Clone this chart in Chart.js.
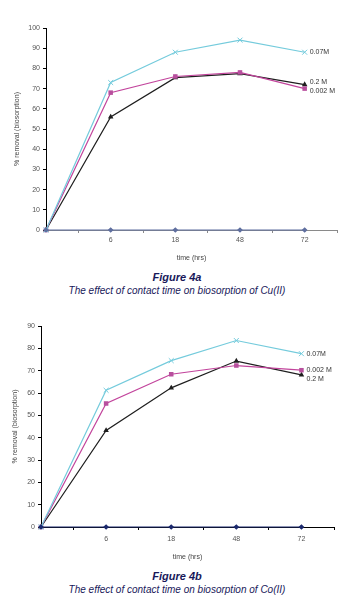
<!DOCTYPE html>
<html>
<head>
<meta charset="utf-8">
<script src="https://cdn.jsdelivr.net/npm/chart.js@4.4.1/dist/chart.umd.min.js"></script>
<style>
  body { margin: 0; background: #fff; width: 354px; height: 603px; position: relative; overflow: hidden; font-family: "Liberation Sans", Arial, sans-serif; }
  canvas { position: absolute; left: 0; }
  .cap { position: absolute; left: 0; width: 354px; text-align: center; color: #18185a; font-style: italic; line-height: 1; white-space: nowrap; }
  .fig { font-weight: bold; font-size: 11px; }
  .sub { font-size: 10px; }
</style>
</head>
<body>
<canvas id="cuChart" width="354" height="268" style="top:0"></canvas>
<div class="cap fig" style="top:272px">Figure 4a</div>
<div class="cap sub" style="top:286px">The effect of contact time on biosorption of Cu(II)</div>
<canvas id="coChart" width="354" height="267" style="top:300px"></canvas>
<div class="cap fig" style="top:571px">Figure 4b</div>
<div class="cap sub" style="top:585px">The effect of contact time on biosorption of Co(II)</div>
<script>
// categories on the time axis (first one has no label)
const timeLabels = ['', '6', '18', '48', '72'];

// Cu(II) - figure 4a
const cuBase = [0, 0, 0, 0, 0];
const cu007 = [0, 73, 88, 94, 88];
const cu0002 = [0, 68, 76, 78, 70];
const cu02 = [0, 56, 75.4, 77.4, 72];

// Co(II) - figure 4b
const coBase = [0, 0, 0, 0, 0];
const co007 = [0, 61.2, 74.5, 83.5, 77.6];
const co0002 = [0, 55.3, 68.4, 72.3, 70.2];
const co02 = [0, 43.2, 62.3, 74.3, 68.1];

const FONT = '"Liberation Sans", Arial, sans-serif';

function toPoints(values) {
    return values.map(function(v, i) { return { x: i, y: v }; });
}

// series name written next to the last point, like the excel data labels
const endLabels = {
    id: 'endLabels',
    afterDatasetsDraw(chart, args, opts) {
        const ctx = chart.ctx;
        ctx.save();
        ctx.font = '7px ' + FONT;
        ctx.fillStyle = '#333';
        ctx.textBaseline = 'middle';
        chart.data.datasets.forEach(function(ds, i) {
            if (!ds.endLabel) return;
            const meta = chart.getDatasetMeta(i);
            const pt = meta.data[meta.data.length - 1];
            const dy = (opts.nudge && opts.nudge[ds.label]) || 0;
            ctx.fillText(ds.label, pt.x + 5, pt.y + dy);
        });
        ctx.restore();
    }
};

function makeChart(id, cfg) {
    const ctx = document.getElementById(id).getContext('2d');
    return new Chart(ctx, {
        type: 'line',
        data: {
            datasets: [
                {
                    label: 'base', data: toPoints(cfg.base), borderColor: cfg.baseColor, backgroundColor: cfg.baseColor,
                    borderWidth: 1.2, pointStyle: 'rectRot', pointRadius: 2, clip: false
                },
                {
                    label: '0.07M', endLabel: true, data: toPoints(cfg.s007), borderColor: '#74cbdc', backgroundColor: '#74cbdc',
                    borderWidth: 1.2, pointStyle: 'crossRot', pointRadius: 3.5, pointBorderWidth: 1, clip: false
                },
                {
                    label: '0.002 M', endLabel: true, data: toPoints(cfg.s0002), borderColor: '#c2449c', backgroundColor: '#b84f9e',
                    borderWidth: 1.2, pointStyle: 'rect', pointRadius: 3.2, pointBorderWidth: 0, clip: false
                },
                {
                    label: '0.2 M', endLabel: true, data: toPoints(cfg.s02), borderColor: '#1e1e1e', backgroundColor: '#1e1e1e',
                    borderWidth: 1.2, pointStyle: 'triangle', pointRadius: 2, clip: false
                }
            ]
        },
        options: {
            responsive: false,
            animation: false,
            layout: { padding: cfg.padding },
            plugins: {
                legend: { display: false },
                tooltip: { enabled: false },
                endLabels: { nudge: cfg.nudge }
            },
            scales: {
                x: {
                    type: 'linear',
                    min: 0,
                    max: 4.5,
                    afterFit: function(scale) { scale.height = cfg.xHeight; },
                    ticks: {
                        stepSize: 0.5,
                        autoSkip: false,
                        maxRotation: 0,
                        padding: cfg.xTickPad,
                        color: '#555',
                        font: { family: FONT, size: 7 },
                        callback: function(v) { return Number.isInteger(v) ? timeLabels[v] : ''; }
                    },
                    grid: {
                        drawOnChartArea: false,
                        tickLength: 3,
                        tickColor: function(c) {
                            return (c.tick && !Number.isInteger(c.tick.value)) ? cfg.axisColor : 'rgba(0,0,0,0)';
                        }
                    },
                    border: { color: cfg.axisColor, width: 1 },
                    title: {
                        display: true,
                        text: 'time (hrs)',
                        color: '#444',
                        font: { family: FONT, size: 7 },
                        padding: { top: 0, bottom: 6 }
                    }
                },
                y: {
                    min: 0,
                    max: cfg.yMax,
                    afterFit: function(scale) { scale.width = cfg.yWidth; },
                    ticks: {
                        stepSize: 10,
                        padding: 3,
                        color: '#555',
                        font: { family: FONT, size: 7 }
                    },
                    grid: { drawOnChartArea: false, tickLength: 3, tickColor: '#000' },
                    border: { color: '#000', width: 1 },
                    title: {
                        display: true,
                        text: '% removal (biosorption)',
                        color: '#444',
                        font: { family: FONT, size: 7 },
                        padding: { top: cfg.yTitlePad, bottom: 0 }
                    }
                }
            }
        },
        plugins: [endLabels]
    });
}

makeChart('cuChart', {
    base: cuBase, s007: cu007, s0002: cu0002, s02: cu02,
    baseColor: '#5f6f9f', axisColor: '#8a8a8a', yMax: 100,
    padding: { top: 28, right: 17, left: 0, bottom: 0 },
    xHeight: 38, yWidth: 46, xTickPad: 3, yTitlePad: 13,
    nudge: { '0.07M': 0, '0.2 M': -2, '0.002 M': 2 }
});

makeChart('coChart', {
    base: coBase, s007: co007, s0002: co0002, s02: co02,
    baseColor: '#1c2a6e', axisColor: '#000', yMax: 90,
    padding: { top: 26, right: 20, left: 0, bottom: 0 },
    xHeight: 40, yWidth: 41, xTickPad: 5, yTitlePad: 11,
    nudge: { '0.07M': 0, '0.002 M': 0, '0.2 M': 4 }
});
</script>
</body>
</html>
